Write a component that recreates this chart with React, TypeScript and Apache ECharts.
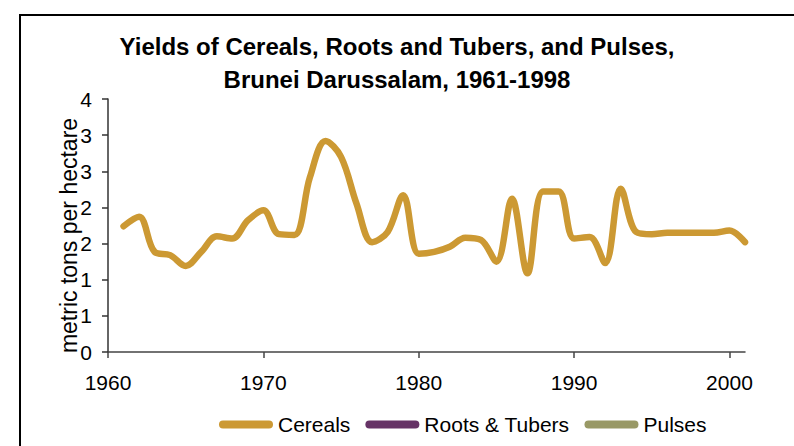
import React, { useEffect, useRef } from "react";
import * as echarts from "echarts";

const years: number[] = [
  1961, 1962, 1963, 1964, 1965, 1966, 1967, 1968, 1969, 1970,
  1971, 1972, 1973, 1974, 1975, 1976, 1977, 1978, 1979, 1980,
  1981, 1982, 1983, 1984, 1985, 1986, 1987, 1988, 1989, 1990,
  1991, 1992, 1993, 1994, 1995, 1996, 1997, 1998, 1999, 2000, 2001,
];
const cereals: number[] = [
  1.74, 1.87, 1.385, 1.34, 1.19, 1.385, 1.6, 1.57, 1.82, 1.96,
  1.63, 1.62, 2.42, 2.92, 2.7, 2.05, 1.52, 1.66, 2.17, 1.36,
  1.385, 1.455, 1.58, 1.55, 1.25, 2.12, 1.09, 2.22, 2.22, 1.57,
  1.59, 1.23, 2.26, 1.66, 1.63, 1.65, 1.65, 1.65, 1.65, 1.68, 1.52,
];
const rootsTubers: number[] = [];
const pulses: number[] = [];
const xTicks: number[] = [1960, 1970, 1980, 1990, 2000];
const seriesNames: string[] = ["Cereals", "Roots & Tubers", "Pulses"];
const seriesColors: string[] = ["#CC9933", "#663366", "#999966"];

const FONT = "'Liberation Sans', Arial, sans-serif";
const capsule = "path://M4,0 L50,0 A4,4 0 0 1 50,8 L4,8 A4,4 0 0 1 4,0 Z";

export default function App() {
  const ref = useRef<HTMLDivElement>(null);
  useEffect(() => {
    if (!ref.current) return;
    const chart = echarts.init(ref.current, undefined, { renderer: "svg" });
    const toPairs = (vals: number[]) => vals.map((v, i) => [years[i], v]);
    const seriesData = [cereals, rootsTubers, pulses];
    chart.setOption({
      animation: false,
      backgroundColor: "#ffffff",
      title: {
        text: "Yields of Cereals, Roots and Tubers, and Pulses,\nBrunei Darussalam, 1961-1998",
        left: "center",
        top: 30,
        padding: [0, 0, 0, 34],
        textStyle: {
          fontFamily: FONT,
          fontSize: 24,
          fontWeight: "bold",
          color: "#000",
          lineHeight: 33,
        },
      },
      graphic: [
        {
          type: "rect",
          shape: { x: 20, y: 15, width: 820, height: 480 },
          style: { fill: "none", stroke: "#000", lineWidth: 2 },
          silent: true,
        },
      ],
      legend: {
        left: 214,
        top: 409,
        itemWidth: 54,
        itemHeight: 8,
        itemGap: 15,
        icon: capsule,
        textStyle: { fontFamily: FONT, fontSize: 21, color: "#000" },
        data: seriesNames.map((n, i) => ({
          name: n,
          itemStyle: { color: seriesColors[i] },
        })),
      },
      grid: { left: 108, right: 49, top: 99, bottom: 94, containLabel: false },
      xAxis: {
        type: "value",
        min: 1960,
        max: 2001,
        interval: 10,
        splitLine: { show: false },
        axisLine: { lineStyle: { color: "#444", width: 1.5 } },
        axisTick: {
          length: 6,
          lineStyle: { color: "#444", width: 1.5 },
          customValues: xTicks,
        },
        axisLabel: {
          customValues: xTicks,
          margin: 20,
          fontFamily: FONT,
          fontSize: 21,
          color: "#000",
          formatter: (v: number) => String(v),
        },
      },
      yAxis: {
        type: "value",
        min: 0,
        max: 3.5,
        interval: 0.5,
        name: "metric tons per hectare",
        nameLocation: "middle",
        nameRotate: 90,
        nameGap: 28,
        nameMoveOverlap: false,
        nameTextStyle: {
          fontFamily: FONT,
          fontSize: 23,
          color: "#000",
          padding: [0, 20, 0, 0],
        },
        splitLine: { show: false },
        axisLine: { show: true, lineStyle: { color: "#333", width: 1.5 } },
        axisTick: { show: true, length: 6, lineStyle: { color: "#333", width: 1.5 } },
        axisLabel: {
          margin: 16,
          fontFamily: FONT,
          fontSize: 21,
          color: "#000",
          formatter: (v: number) => String(Math.round(v)),
        },
      },
      series: seriesNames.map((n, i) => ({
        name: n,
        type: "line",
        data: toPairs(seriesData[i]),
        smooth: 0.35,
        showSymbol: false,
        symbol: "none",
        lineStyle: { color: seriesColors[i], width: 6.5, cap: "round", join: "round" },
        itemStyle: { color: seriesColors[i] },
      })),
    });
    return () => chart.dispose();
  }, []);
  return (
    <div
      ref={ref}
      style={{ position: "absolute", left: 0, top: 0, width: 794, height: 446 }}
    />
  );
}
